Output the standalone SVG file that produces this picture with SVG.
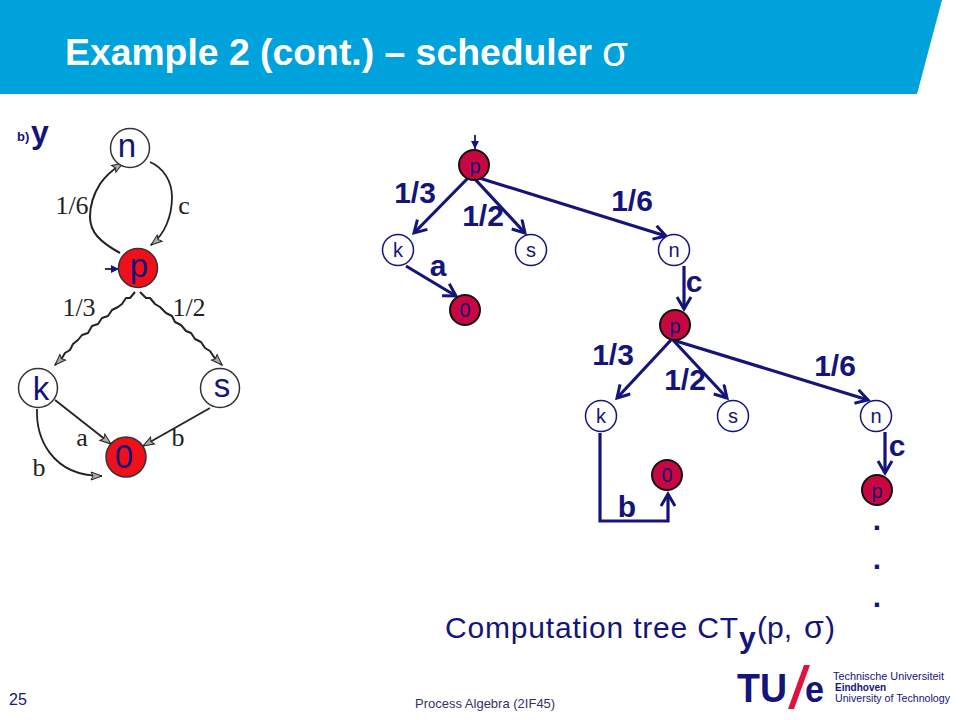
<svg xmlns="http://www.w3.org/2000/svg" width="960" height="720" viewBox="0 0 960 720">
<defs>
<marker id="open" markerUnits="userSpaceOnUse" markerWidth="18" markerHeight="18" refX="13" refY="8" orient="auto"><path d="M1 1 L13 8 L1 15" fill="none" stroke="#14147a" stroke-width="3"/></marker>
<marker id="small" markerUnits="userSpaceOnUse" markerWidth="10" markerHeight="10" refX="8" refY="5" orient="auto"><path d="M0 1 L8 5 L0 9 Z" fill="#14147a"/></marker>
<marker id="sk" markerUnits="userSpaceOnUse" markerWidth="14" markerHeight="12" refX="12" refY="6" orient="auto"><path d="M1 2 L12 6 L1 10 L3 6 Z" fill="#aaa" stroke="#222" stroke-width="1"/></marker>
</defs>
<style>
text{font-family:"Liberation Sans",Arial,sans-serif;fill:#14147a}
.lbl{font-size:30px;font-weight:700;text-anchor:middle}
.t{font-size:20px;text-anchor:middle}
.s{fill:#fff;stroke:#14147a;stroke-width:1.5}
.r{fill:#c8063f;stroke:#111;stroke-width:2}
.e{fill:none;stroke:#14147a;stroke-width:3.2}
.g{fill:none;stroke:#222;stroke-width:1.8}
.w{fill:none;stroke:#222;stroke-width:2;stroke-linejoin:round}
.gs{fill:#fff;stroke:#333;stroke-width:1.5}
.gr{fill:#f0101a;stroke:#333;stroke-width:1.5}
.gt{font-size:33px;text-anchor:middle}
.gl{font-family:"Liberation Serif",serif;font-size:26px;fill:#222;text-anchor:middle}
</style>
<rect width="960" height="720" fill="#fff"/>
<path id="banner" d="M0 0H942L917 94H0Z" fill="#00a2dc"/>
<text x="65" y="65" font-size="36" font-weight="700" textLength="527" lengthAdjust="spacingAndGlyphs" style="fill:#fff">Example 2 (cont.) – scheduler</text>
<text x="602" y="66" font-size="42" style="fill:#fff">σ</text>

<g id="connectors-left">
<path class="w" d="M120 253C100 242 90 232 90 217C90 205 93 195 100 184C106 175 112 170 123 163" marker-end="url(#sk)"/>
<path class="g" d="M150 162C164 168 172 182 172 197C172 216 165 234 151 245" marker-end="url(#sk)"/>
<path class="g" d="M105 269H119" marker-end="url(#small)"/>
<path class="w" d="M135 292L130 298L126 298L122 304L118 307L112 310L108 316L102 318L98 324L92 326L88 333L82 335L78 340L73 344L70 350L65 353L62 358L55 365" marker-end="url(#sk)"/>
<path class="w" d="M140 292L146 298L150 298L155 304L160 307L166 313L172 316L175 322L181 325L186 331L191 333L195 339L201 342L205 348L210 351L214 357L222 365" marker-end="url(#sk)"/>
<path class="g" d="M55 400L111 444" marker-end="url(#sk)"/>
<path class="g" d="M210 408L143 446" marker-end="url(#sk)"/>
<path class="g" d="M37 409C36 436 50 476 102 476" marker-end="url(#sk)"/>
</g>
<g id="node-left-n"><circle class="gs" cx="130" cy="148" r="19.500"/><text class="gt" x="127" y="157">n</text></g>
<g id="node-left-p"><circle class="gr" cx="138" cy="268" r="19.500"/><text class="gt" x="139" y="277">p</text></g>
<g id="node-left-k"><circle class="gs" cx="38" cy="388" r="19.500"/><text class="gt" x="41" y="400">k</text></g>
<g id="node-left-s"><circle class="gs" cx="220" cy="388" r="19.500"/><text class="gt" x="222" y="397">s</text></g>
<g id="node-left-0"><circle class="gr" cx="126" cy="457" r="20"/><text class="gt" x="124" y="468">0</text></g>
<text x="17" y="141" font-size="13" font-weight="700">b)</text>
<text x="31" y="143" font-size="32" font-weight="700">y</text>
<text class="gl" x="72" y="214">1/6</text>
<text class="gl" x="184" y="214">c</text>
<text class="gl" x="79" y="316">1/3</text>
<text class="gl" x="189" y="316">1/2</text>
<text class="gl" x="82" y="446">a</text>
<text class="gl" x="178" y="446">b</text>
<text class="gl" x="39" y="476">b</text>

<g id="connectors">
<path class="e" style="stroke-width:1.8" d="M475 135V149" marker-end="url(#small)"/>
<path class="e" d="M469 177L414 233" marker-end="url(#open)"/>
<path class="e" d="M473 177L525 233" marker-end="url(#open)"/>
<path class="e" d="M476 177L666 236" marker-end="url(#open)"/>
<path class="e" d="M406 266L456 296" marker-end="url(#open)"/>
<path class="e" d="M684 266V309" marker-end="url(#open)"/>
<path class="e" d="M671 340L617 398" marker-end="url(#open)"/>
<path class="e" d="M673 340L727 398" marker-end="url(#open)"/>
<path class="e" d="M676 341L868 400" marker-end="url(#open)"/>
<path class="e" stroke-linejoin="miter" d="M600 433V521H668V494" marker-end="url(#open)"/>
<path class="e" d="M885 432V473" marker-end="url(#open)"/>
</g>

<g id="node-p1"><circle class="r" cx="474" cy="165" r="15"/><text class="t" x="475" y="173">p</text></g>
<g id="node-k1"><circle class="s" cx="398" cy="250" r="15.500"/><text class="t" x="398" y="257">k</text></g>
<g id="node-s1"><circle class="s" cx="531" cy="250" r="15.500"/><text class="t" x="531" y="257">s</text></g>
<g id="node-n1"><circle class="s" cx="674" cy="250" r="15.500"/><text class="t" x="674" y="257">n</text></g>
<g id="node-01"><circle class="r" cx="465" cy="310" r="15"/><text class="t" x="465" y="317">0</text></g>
<g id="node-p2"><circle class="r" cx="675" cy="325" r="15"/><text class="t" x="675" y="333">p</text></g>
<g id="node-k2"><circle class="s" cx="601" cy="416" r="15.500"/><text class="t" x="601" y="423">k</text></g>
<g id="node-s2"><circle class="s" cx="733" cy="416" r="15.500"/><text class="t" x="733" y="423">s</text></g>
<g id="node-n2"><circle class="s" cx="876" cy="416" r="15.500"/><text class="t" x="876" y="423">n</text></g>
<g id="node-02"><circle class="r" cx="667" cy="475" r="15"/><text class="t" x="667" y="482">0</text></g>
<g id="node-p3"><circle class="r" cx="877" cy="490" r="15"/><text class="t" x="877" y="498">p</text></g>

<text class="lbl" x="415" y="203">1/3</text>
<text class="lbl" x="483" y="226">1/2</text>
<text class="lbl" x="632" y="211">1/6</text>
<text class="lbl" x="438" y="276">a</text>
<text class="lbl" x="694" y="292">c</text>
<text class="lbl" x="613" y="365">1/3</text>
<text class="lbl" x="685" y="390">1/2</text>
<text class="lbl" x="835" y="376">1/6</text>
<text class="lbl" x="627" y="517">b</text>
<text class="lbl" x="897" y="456">c</text>
<text class="lbl" x="877" y="530">.</text>
<text class="lbl" x="877" y="569">.</text>
<text class="lbl" x="877" y="607">.</text>

<text x="445" y="638" font-size="30" textLength="293" lengthAdjust="spacing">Computation tree CT</text>
<text x="739" y="648" font-size="30" font-weight="700">y</text>
<text x="757" y="638" font-size="30">(p,</text>
<text x="804" y="638" font-size="32">σ</text>
<text x="825" y="638" font-size="30">)</text>

<text x="9" y="705" font-size="16">25</text>
<text x="415" y="708" font-size="13" style="fill:#333366">Process Algebra (2IF45)</text>

<g id="logo">
<text x="737" y="702" font-size="40" font-weight="700" textLength="50" lengthAdjust="spacingAndGlyphs">TU</text>
<path d="M804 665H810L794 709H788Z" fill="#e0103f"/>
<text x="805" y="702" font-size="37" font-weight="700" textLength="19" lengthAdjust="spacingAndGlyphs">e</text>
<text x="833" y="680" font-size="10.500" textLength="111" lengthAdjust="spacingAndGlyphs">Technische Universiteit</text>
<text x="835" y="691" font-size="10" font-weight="700">Eindhoven</text>
<text x="835" y="702" font-size="10.500" textLength="115" lengthAdjust="spacingAndGlyphs">University of Technology</text>
</g>
</svg>
